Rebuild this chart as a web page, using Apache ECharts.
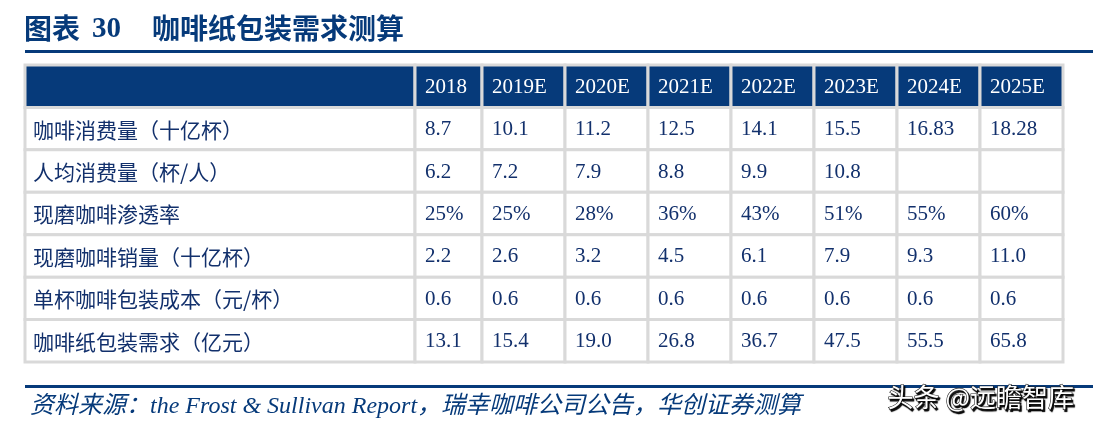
<!DOCTYPE html>
<html><head><meta charset="utf-8">
<script src="https://cdn.jsdelivr.net/npm/echarts@6/dist/echarts.min.js"></script>
<style>html,body{margin:0;padding:0;background:#fff}#c{width:1102px;height:428px}</style>
</head><body><div id="c"></div>
<script>
// ---- data ----
const years = ['2018','2019E','2020E','2021E','2022E','2023E','2024E','2025E'];
const rowLabels = ['咖啡消费量（十亿杯）','人均消费量（杯/人）','现磨咖啡渗透率','现磨咖啡销量（十亿杯）','单杯咖啡包装成本（元/杯）','咖啡纸包装需求（亿元）'];
const consumption = [8.7,10.1,11.2,12.5,14.1,15.5,16.83,18.28];
const perCapita   = [6.2,7.2,7.9,8.8,9.9,10.8,null,null];
const penetration = [25,25,28,36,43,51,55,60]; // %
const freshSales  = [2.2,2.6,3.2,4.5,6.1,7.9,9.3,11.0];
const unitCost    = [0.6,0.6,0.6,0.6,0.6,0.6,0.6,0.6];
const demand      = [13.1,15.4,19.0,26.8,36.7,47.5,55.5,65.8];
const rowSeries = [consumption, perCapita, penetration, freshSales, unitCost, demand];
const rowSuffix = ['', '', '%', '', '', ''];

function fmt(v, suffix){
  if (v === null || v === undefined) return '';
  if (suffix === '%') return v + '%';
  return Number.isInteger(Math.round(v*100)/10) ? v.toFixed(1) : String(v);
}

const NAVY = '#063a7a', GRID = '#d9d9d9', TXT = '#12306c';
const yCats = ['header'].concat(rowLabels);

// column groups: label column, 2018, 2019E-2025E
const groups = [
  {left:25, width:390, cols:['项目'], label:true},
  {left:415, width:67, cols:years.slice(0,1), start:0},
  {left:482, width:581, cols:years.slice(1), start:1}
];

function buildCells(g){
  const cells = [];
  for (let r = 0; r < yCats.length; r++){
    for (let c = 0; c < g.cols.length; c++){
      let text, header = r === 0;
      if (g.label) text = header ? '' : rowLabels[r-1];
      else {
        const yi = g.start + c;
        text = header ? years[yi] : fmt(rowSeries[r-1][yi], rowSuffix[r-1]);
      }
      cells.push({value:[c, r], text, header, label:!!g.label});
    }
  }
  return cells;
}

const grids = [], xAxes = [], yAxes = [], series = [];
groups.forEach((g, i) => {
  grids.push({left:g.left, width:g.width, top:65, height:297});
  xAxes.push({type:'category', gridIndex:i, data:g.cols, show:false, boundaryGap:true});
  yAxes.push({type:'category', gridIndex:i, data:yCats, show:false, inverse:true, boundaryGap:true});
  const cells = buildCells(g);
  series.push({
    type:'custom', xAxisIndex:i, yAxisIndex:i, silent:true,
    data: cells.map(c => c.value),
    renderItem: function(params, api){
      const cell = cells[params.dataIndex];
      const ctr = api.coord([api.value(0), api.value(1)]);
      const sz = api.size([1, 1]);
      const x0 = ctr[0] - sz[0]/2, y0 = ctr[1] - sz[1]/2;
      return {
        type:'group',
        children:[
          {type:'rect', shape:{x:x0, y:y0, width:sz[0], height:sz[1]},
           style:{fill: cell.header ? NAVY : '#ffffff', stroke:GRID, lineWidth:3}},
          {type:'text', style:{
            text: cell.text, x: x0 + (cell.label ? 8 : 10), y: ctr[1] + 1,
            fill: cell.header ? '#ffffff' : TXT,
            font: cell.label ? '21px "Noto Sans CJK SC", sans-serif' : '21px "Liberation Serif", serif',
            textAlign:'left', textVerticalAlign:'middle'}}
        ]
      };
    }
  });
});

const chart = echarts.init(document.getElementById('c'), null, {renderer:'canvas'});
chart.setOption({
  animation:false,
  backgroundColor:'#ffffff',
  grid: grids, xAxis: xAxes, yAxis: yAxes, series: series,
  graphic: [
    {type:'text', left:24, top:14, style:{text:'图表', fill:NAVY, font:'bold 28px "Noto Sans CJK SC", serif'}},
    {type:'text', left:92, top:15, style:{text:'30', fill:NAVY, font:'bold 29px "Liberation Serif", serif'}},
    {type:'text', left:152, top:14, style:{text:'咖啡纸包装需求测算', fill:NAVY, font:'bold 28px "Noto Sans CJK SC", serif'}},
    {type:'rect', shape:{x:25, y:50, width:1068, height:3}, style:{fill:NAVY}},
    {type:'rect', shape:{x:25, y:385, width:1068, height:3}, style:{fill:NAVY}},
    {type:'text', left:30, top:395, style:{text:'资料来源：the Frost & Sullivan Report，瑞幸咖啡公司公告，华创证券测算', fill:NAVY, font:'italic 24px "Liberation Serif", "Noto Sans CJK SC", serif'}},
    {type:'text', left:887, top:384, z:10, style:{text:'头条 @远瞻智库', fill:'#ffffff', font:'26px "Noto Sans CJK SC", sans-serif', textShadowColor:'#000000', textShadowBlur:1, textShadowOffsetX:1.5, textShadowOffsetY:1.5, stroke:'#222222', lineWidth:1.2}}
  ]
});
</script></body></html>
